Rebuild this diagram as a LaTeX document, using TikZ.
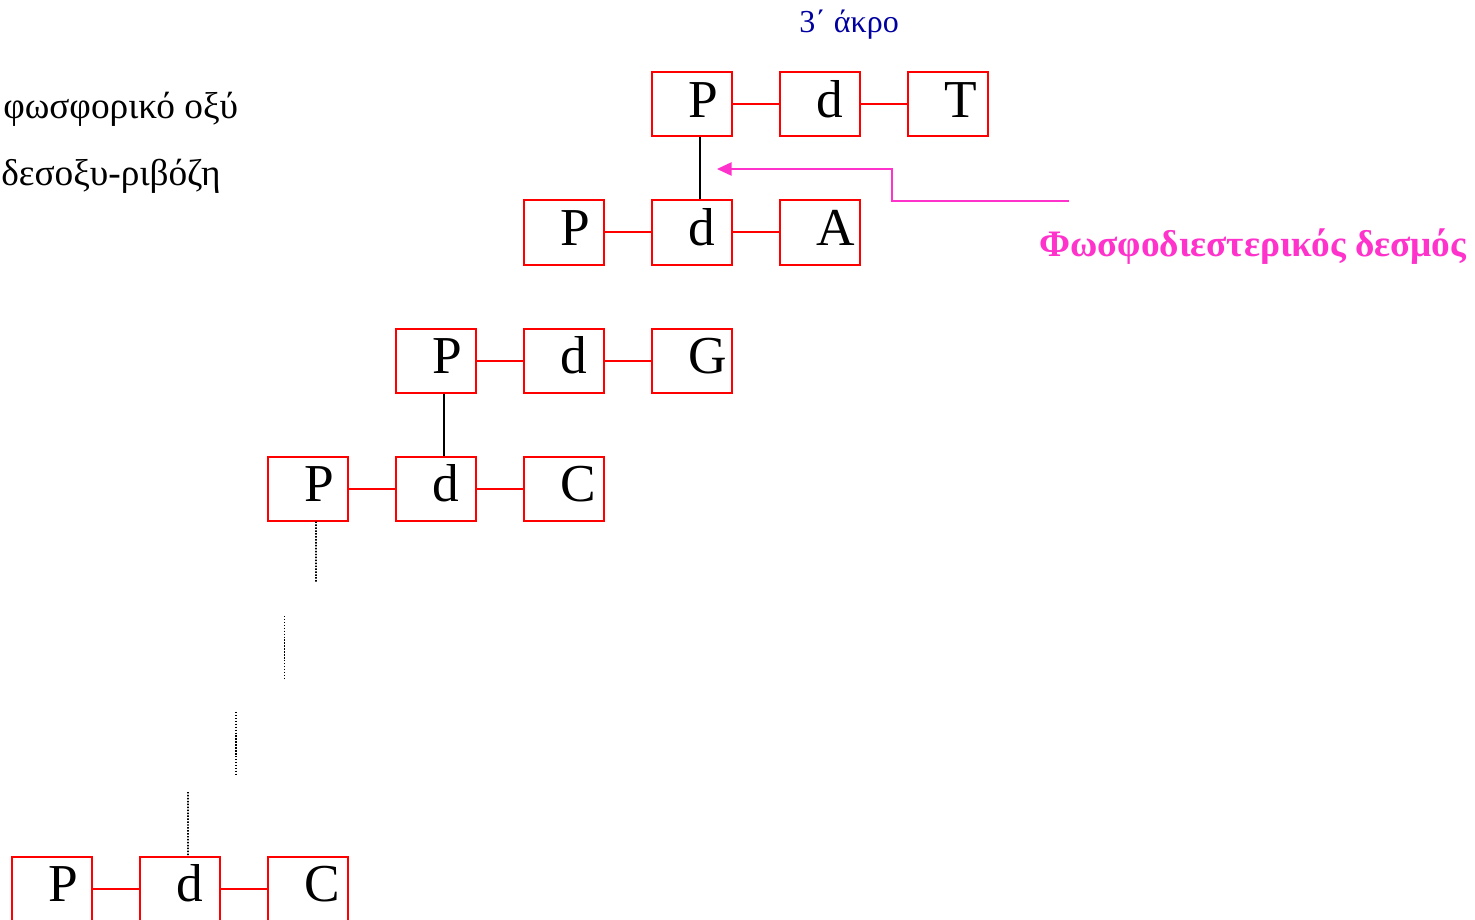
\documentclass[tikz,border=0pt]{standalone}
\usepackage{fontspec}
\setmainfont{Liberation Serif}
\usetikzlibrary{arrows.meta}
\definecolor{boxred}{RGB}{255,0,0}
\definecolor{pinkm}{RGB}{255,51,204}
\definecolor{darkblue}{RGB}{0,0,160}
\newcommand{\bletter}[1]{\makebox[60pt][l]{\hspace{27.5pt}#1}}
\begin{document}
\begin{tikzpicture}[x=0.75pt,y=-0.75pt,
  unit/.style={draw=boxred, line width=1.5pt, minimum width=60pt, minimum height=48pt,
    inner sep=0pt, text height=33.75pt, text depth=14.25pt, font=\fontsize{40}{40}\selectfont},
  redlink/.style={draw=boxred, line width=1.5pt},
  bondline/.style={draw=black, line width=1.1pt},
  dotline/.style={draw=black, line width=1.3pt, dash pattern=on 1.1pt off 1.1pt},
  pinkarrow/.style={draw=pinkm, line width=1.2pt, -{Triangle[length=11pt,width=10pt]}},
  caption/.style={anchor=base west, inner sep=0pt, font=\fontsize{28}{28}\selectfont}
]
\useasboundingbox (0,0) rectangle (1475,920);
% row 1
\node[unit] (p1) at (692.3,104.5) {\bletter{P}};
\node[unit] (d1) at (820.3,104.5) {\bletter{d}};
\node[unit] (b1) at (948.3,104.5) {\bletter{T}};
% row 2
\node[unit] (p2) at (564.3,232.5) {\bletter{P}};
\node[unit] (d2) at (692.3,232.5) {\bletter{d}};
\node[unit] (b2) at (820.3,232.5) {\bletter{A}};
% row 3
\node[unit] (p3) at (436.3,360.5) {\bletter{P}};
\node[unit] (d3) at (564.3,360.5) {\bletter{d}};
\node[unit] (b3) at (692.3,360.5) {\bletter{G}};
% row 4
\node[unit] (p4) at (308.3,488.5) {\bletter{P}};
\node[unit] (d4) at (436.3,488.5) {\bletter{d}};
\node[unit] (b4) at (564.3,488.5) {\bletter{C}};
% row 5
\node[unit] (p5) at (52.3,888.5) {\bletter{P}};
\node[unit] (d5) at (180.3,888.5) {\bletter{d}};
\node[unit] (b5) at (308.3,888.5) {\bletter{C}};
% horizontal links
\foreach \r in {1,...,5}{
  \draw[redlink] (p\r.east) -- (d\r.west);
  \draw[redlink] (d\r.east) -- (b\r.west);
}
% vertical bonds
\draw[bondline] ([xshift=5.8pt]p1.south) -- ([xshift=5.8pt]d2.north);
\draw[bondline] ([xshift=5.8pt]p3.south) -- ([xshift=5.8pt]d4.north);
% dotted chain
\coordinate (c1) at (316,582);
\coordinate (c2a) at (284.5,616);
\coordinate (c2b) at (284.5,678);
\coordinate (c3a) at (236,712);
\coordinate (c3b) at (236,774);
\coordinate (c4a) at (188,792);
\draw[dotline] ([xshift=5.8pt]p4.south) -- (c1);
\draw[dotline] (c2a) -- (c2b);
\draw[dotline] (c3a) -- (c3b);
\draw[dotline] (c4a) -- ([xshift=5.8pt]d5.north);
% labels
\node[caption] (acid) at (3,119) {φωσφορικό οξύ};
\node[caption] (sugar) at (1,186) {δεσοξυ-ριβόζη};
\node[caption, text=darkblue, font=\fontsize{24}{24}\selectfont] (end3) at (799,33) {3΄ άκρο};
\node[caption, text=pinkm, font=\bfseries\fontsize{28}{28}\selectfont] (bond) at (1039,257) {Φωσφοδιεστερικός δεσμός};
% arrow
\coordinate (astart) at (1069,201);
\coordinate (atip) at (717,169);
\draw[pinkarrow] (astart) -- (892,201) -- (892,169) -- (atip);
\end{tikzpicture}
\end{document}
